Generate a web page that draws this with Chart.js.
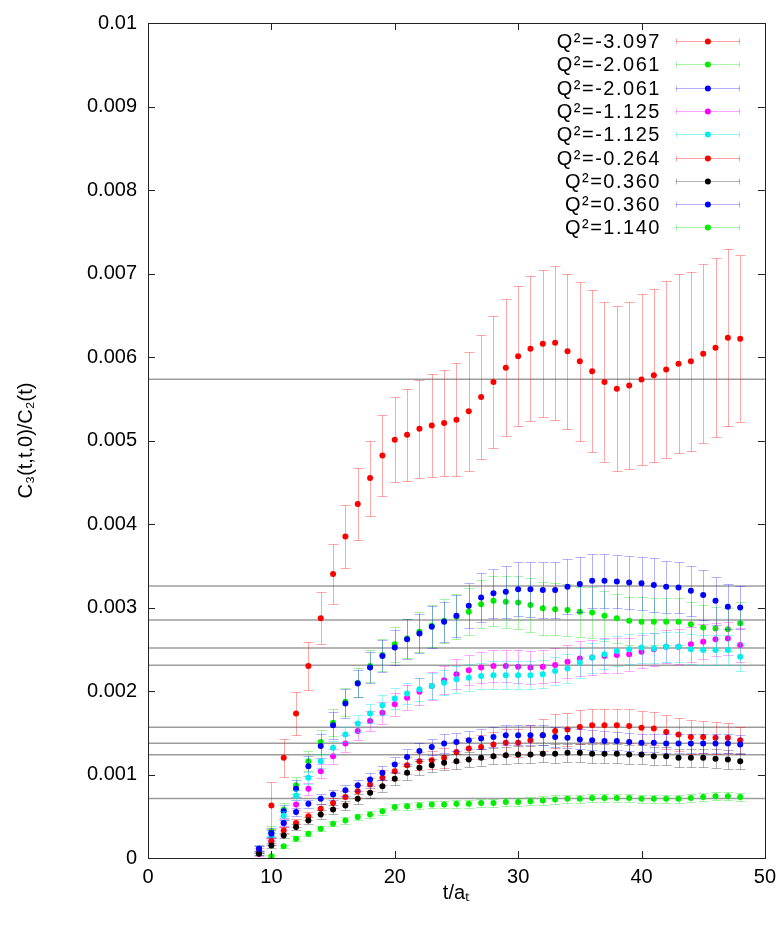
<!DOCTYPE html>
<html>
<head>
<meta charset="utf-8">
<script src="https://cdn.jsdelivr.net/npm/chart.js@4/dist/chart.umd.min.js"></script>
<style>
html,body{margin:0;padding:0;background:#fff;}
#wrap{width:783px;height:931px;position:relative;}
</style>
</head>
<body>
<div id="wrap"><canvas id="c" width="783" height="931"></canvas></div>
<script>
// ---------- data ----------
const tValues = [9,10,11,12,13,14,15,16,17,18,19,20,21,22,23,24,25,26,27,28,29,30,31,32,33,34,35,36,37,38,39,40,41,42,43,44,45,46,47,48];

const seriesLabels = ['Q²=-3.097','Q²=-2.061','Q²=-2.061','Q²=-1.125','Q²=-1.125','Q²=-0.264','Q²=0.360','Q²=0.360','Q²=1.140'];

const qm3097 = [null,0.00063,0.00120,0.00173,0.00230,0.00287,0.00340,0.00385,0.00424,0.00455,0.00482,0.00501,0.00507,0.00514,0.00518,0.00521,0.00525,0.00535,0.00552,0.00570,0.00587,0.00601,0.00610,0.00616,0.00617,0.00607,0.00595,0.00583,0.00570,0.00562,0.00566,0.00573,0.00578,0.00585,0.00592,0.00595,0.00604,0.00611,0.00623,0.00622];
const qm3097Err = [null,0.00028,0.00023,0.00026,0.00029,0.00031,0.00036,0.00038,0.00043,0.00045,0.00049,0.00051,0.00055,0.00059,0.00062,0.00064,0.00068,0.00071,0.00074,0.00079,0.00082,0.00084,0.00087,0.00088,0.00092,0.00093,0.00095,0.00097,0.00096,0.00099,0.00100,0.00102,0.00104,0.00106,0.00107,0.00107,0.00107,0.00107,0.00106,0.00100];

const qm2061g = [0.00010,0.00032,0.00058,0.00087,0.00116,0.00139,0.00162,0.00187,0.00210,0.00230,0.00243,0.00256,0.00263,0.00271,0.00278,0.00284,0.00289,0.00295,0.00304,0.00308,0.00307,0.00306,0.00303,0.00299,0.00298,0.00297,0.00295,0.00294,0.00290,0.00287,0.00284,0.00283,0.00283,0.00283,0.00283,0.00280,0.00276,0.00275,0.00274,0.00281];
const qm2061gErr = [0.00004,0.00006,0.00008,0.00010,0.00012,0.00014,0.00016,0.00017,0.00017,0.00019,0.00019,0.00021,0.00023,0.00024,0.00025,0.00026,0.00027,0.00028,0.00029,0.00030,0.00031,0.00032,0.00032,0.00032,0.00031,0.00031,0.00030,0.00030,0.00030,0.00029,0.00029,0.00029,0.00028,0.00028,0.00028,0.00027,0.00027,0.00026,0.00026,0.00026];

const qm2061b = [0.00011,0.00030,0.00056,0.00083,0.00110,0.00134,0.00159,0.00185,0.00209,0.00228,0.00242,0.00252,0.00262,0.00269,0.00277,0.00283,0.00290,0.00302,0.00312,0.00317,0.00319,0.00322,0.00322,0.00321,0.00321,0.00325,0.00328,0.00332,0.00332,0.00331,0.00330,0.00329,0.00327,0.00325,0.00324,0.00320,0.00315,0.00308,0.00301,0.00300];
const qm2061bErr = [0.00005,0.00006,0.00008,0.00010,0.00012,0.00014,0.00016,0.00017,0.00016,0.00019,0.00019,0.00021,0.00024,0.00023,0.00025,0.00024,0.00025,0.00027,0.00029,0.00029,0.00031,0.00032,0.00033,0.00033,0.00033,0.00033,0.00033,0.00032,0.00032,0.00032,0.00032,0.00032,0.00032,0.00031,0.00031,0.00030,0.00030,0.00029,0.00027,0.00026];

const qm1125m = [0.00005,0.00020,0.00042,0.00064,0.00083,0.00104,0.00122,0.00137,0.00152,0.00164,0.00174,0.00184,0.00192,0.00199,0.00206,0.00213,0.00220,0.00225,0.00228,0.00230,0.00230,0.00229,0.00228,0.00229,0.00231,0.00235,0.00239,0.00240,0.00242,0.00243,0.00244,0.00247,0.00250,0.00253,0.00253,0.00256,0.00259,0.00262,0.00263,0.00255];
const qm1125mErr = [0.00003,0.00004,0.00005,0.00006,0.00007,0.00008,0.00009,0.00010,0.00011,0.00012,0.00013,0.00014,0.00015,0.00016,0.00017,0.00017,0.00018,0.00018,0.00019,0.00019,0.00019,0.00020,0.00020,0.00020,0.00020,0.00020,0.00021,0.00021,0.00021,0.00021,0.00020,0.00020,0.00020,0.00020,0.00021,0.00021,0.00021,0.00020,0.00020,0.00020];

const qm1125c = [0.00007,0.00026,0.00051,0.00075,0.00096,0.00116,0.00132,0.00148,0.00161,0.00173,0.00183,0.00191,0.00197,0.00202,0.00206,0.00210,0.00214,0.00216,0.00218,0.00219,0.00219,0.00219,0.00219,0.00220,0.00224,0.00227,0.00234,0.00240,0.00244,0.00248,0.00250,0.00252,0.00251,0.00253,0.00253,0.00250,0.00249,0.00249,0.00249,0.00241];
const qm1125cErr = [0.00003,0.00004,0.00005,0.00006,0.00007,0.00008,0.00008,0.00009,0.00010,0.00011,0.00012,0.00012,0.00013,0.00014,0.00015,0.00015,0.00016,0.00016,0.00016,0.00017,0.00017,0.00017,0.00017,0.00017,0.00017,0.00017,0.00018,0.00018,0.00018,0.00018,0.00018,0.00018,0.00018,0.00018,0.00018,0.00018,0.00018,0.00018,0.00018,0.00017];

const qm0264 = [0.00009,0.00020,0.00033,0.00042,0.00050,0.00059,0.00066,0.00073,0.00080,0.00088,0.00096,0.00104,0.00111,0.00116,0.00117,0.00120,0.00127,0.00131,0.00133,0.00136,0.00138,0.00138,0.00141,0.00147,0.00152,0.00154,0.00157,0.00159,0.00159,0.00159,0.00158,0.00156,0.00155,0.00151,0.00148,0.00145,0.00145,0.00144,0.00144,0.00141];
const qm0264Err = [0.00003,0.00004,0.00004,0.00005,0.00005,0.00006,0.00006,0.00007,0.00008,0.00008,0.00009,0.00010,0.00010,0.00011,0.00011,0.00012,0.00012,0.00013,0.00014,0.00015,0.00016,0.00017,0.00018,0.00019,0.00020,0.00020,0.00020,0.00020,0.00020,0.00020,0.00020,0.00020,0.00020,0.00020,0.00020,0.00020,0.00019,0.00019,0.00018,0.00016];

const q0360k = [0.00005,0.00015,0.00027,0.00037,0.00045,0.00052,0.00058,0.00063,0.00071,0.00078,0.00086,0.00095,0.00102,0.00108,0.00111,0.00114,0.00116,0.00118,0.00120,0.00122,0.00123,0.00124,0.00124,0.00125,0.00125,0.00126,0.00126,0.00125,0.00125,0.00125,0.00124,0.00124,0.00122,0.00122,0.00120,0.00120,0.00120,0.00119,0.00118,0.00116];
const q0360kErr = [0.00002,0.00003,0.00003,0.00004,0.00004,0.00005,0.00005,0.00005,0.00006,0.00006,0.00007,0.00007,0.00008,0.00008,0.00008,0.00009,0.00009,0.00009,0.00010,0.00010,0.00010,0.00010,0.00010,0.00010,0.00011,0.00011,0.00011,0.00011,0.00011,0.00011,0.00011,0.00011,0.00011,0.00011,0.00011,0.00011,0.00011,0.00011,0.00011,0.00010];

const q0360b = [0.00011,0.00029,0.00042,0.00055,0.00065,0.00071,0.00076,0.00081,0.00087,0.00094,0.00102,0.00112,0.00121,0.00128,0.00133,0.00137,0.00139,0.00141,0.00143,0.00145,0.00147,0.00147,0.00147,0.00147,0.00145,0.00144,0.00142,0.00141,0.00140,0.00140,0.00139,0.00138,0.00138,0.00137,0.00137,0.00137,0.00137,0.00137,0.00137,0.00136];
const q0360bErr = [0.00003,0.00004,0.00004,0.00005,0.00005,0.00006,0.00006,0.00007,0.00007,0.00008,0.00008,0.00009,0.00009,0.00010,0.00010,0.00011,0.00011,0.00011,0.00012,0.00012,0.00012,0.00012,0.00012,0.00012,0.00012,0.00012,0.00012,0.00012,0.00012,0.00011,0.00011,0.00011,0.00011,0.00011,0.00011,0.00011,0.00011,0.00011,0.00011,0.00011];

const q1140g = [null,0.00002,0.00014,0.00023,0.00029,0.00035,0.00041,0.00045,0.00049,0.00052,0.00056,0.00061,0.00062,0.00063,0.00064,0.00064,0.00065,0.00065,0.00066,0.00066,0.00067,0.00067,0.00068,0.00069,0.00070,0.00071,0.00071,0.00072,0.00072,0.00072,0.00072,0.00071,0.00071,0.00071,0.00071,0.00072,0.00073,0.00074,0.00074,0.00073];
const q1140gErr = [null,0.00002,0.00002,0.00003,0.00003,0.00003,0.00003,0.00004,0.00004,0.00004,0.00004,0.00004,0.00004,0.00004,0.00004,0.00004,0.00005,0.00005,0.00005,0.00005,0.00005,0.00005,0.00005,0.00005,0.00005,0.00005,0.00005,0.00005,0.00005,0.00005,0.00005,0.00005,0.00005,0.00005,0.00005,0.00005,0.00005,0.00005,0.00005,0.00005];

// constant fit levels (grey horizontal lines)
const fitLevels = [0.005735,0.003258,0.002849,0.002516,0.002307,0.001565,0.001375,0.001237,0.000713];

const xTickLabels = ['0','10','20','30','40','50'];
const yTickLabels = ['0','0.001','0.002','0.003','0.004','0.005','0.006','0.007','0.008','0.009','0.01'];

// ---------- styles ----------
const seriesValues = [qm3097,qm2061g,qm2061b,qm1125m,qm1125c,qm0264,q0360k,q0360b,q1140g];
const seriesErrors = [qm3097Err,qm2061gErr,qm2061bErr,qm1125mErr,qm1125cErr,qm0264Err,q0360kErr,q0360bErr,q1140gErr];
const pointColors = ['#ff0000','#00ee00','#0000ff','#ff00ff','#00eeee','#ff0000','#000000','#0000ff','#00ee00'];
const barColors = ['rgba(255,0,0,0.35)','rgba(0,220,0,0.35)','rgba(0,0,255,0.3)','rgba(255,0,255,0.35)','rgba(0,230,230,0.4)','rgba(255,0,0,0.35)','rgba(0,0,0,0.3)','rgba(0,0,255,0.3)','rgba(0,220,0,0.35)'];
const FONT = "'Liberation Sans', Arial, Helvetica, sans-serif";

const datasets = [];
seriesValues.forEach((vals, s) => {
  const pts = [], errs = [];
  tValues.forEach((t, i) => {
    if (vals[i] === null) return;
    pts.push({x: t, y: vals[i]});
    errs.push(seriesErrors[s][i]);
  });
  datasets.push({
    label: seriesLabels[s],
    data: pts,
    errorValues: errs,
    errorColor: barColors[s],
    legendRow: s,
    showLine: false,
    pointRadius: 3,
    pointHoverRadius: 3,
    pointBorderWidth: 0,
    pointBackgroundColor: pointColors[s],
    borderColor: pointColors[s],
    backgroundColor: pointColors[s],
    order: 100 - s
  });
});
fitLevels.forEach((v) => {
  datasets.push({
    label: 'fit',
    data: [{x: 0, y: v}, {x: 50, y: v}],
    showLine: true,
    pointRadius: 0,
    borderColor: 'rgba(90,90,90,0.6)',
    borderWidth: 1.5,
    order: 200
  });
});

const errorBarPlugin = {
  id: 'errorBars',
  beforeDatasetDraw(chart, args) {
    const ds = chart.data.datasets[args.index];
    if (!ds.errorValues) return;
    const xs = chart.scales.x, ys = chart.scales.y, ctx = chart.ctx, a = chart.chartArea;
    ctx.save();
    ctx.beginPath();
    ctx.rect(a.left, a.top, a.right - a.left, a.bottom - a.top);
    ctx.clip();
    ctx.strokeStyle = ds.errorColor;
    ctx.lineWidth = 1;
    ds.data.forEach((p, i) => {
      const e = ds.errorValues[i];
      if (e === null || e === undefined) return;
      const px = Math.round(xs.getPixelForValue(p.x)) + 0.5;
      const y1 = Math.round(ys.getPixelForValue(p.y - e)) + 0.5;
      const y2 = Math.round(ys.getPixelForValue(p.y + e)) + 0.5;
      ctx.beginPath();
      ctx.moveTo(px, y1); ctx.lineTo(px, y2);
      ctx.moveTo(px - 5, y1); ctx.lineTo(px + 5, y1);
      ctx.moveTo(px - 5, y2); ctx.lineTo(px + 5, y2);
      ctx.stroke();
    });
    ctx.restore();
  }
};

const framePlugin = {
  id: 'frame',
  afterDatasetsDraw(chart) {
    const ctx = chart.ctx, a = chart.chartArea, xs = chart.scales.x, ys = chart.scales.y;
    ctx.save();
    ctx.strokeStyle = '#222';
    ctx.lineWidth = 1;
    ctx.strokeRect(Math.round(a.left) + 0.5, Math.round(a.top) + 0.5, Math.round(a.right - a.left), Math.round(a.bottom - a.top));
    ctx.beginPath();
    xs.ticks.forEach(tk => {
      const px = Math.round(xs.getPixelForValue(tk.value)) + 0.5;
      ctx.moveTo(px, a.bottom); ctx.lineTo(px, a.bottom - 7);
      ctx.moveTo(px, a.top); ctx.lineTo(px, a.top + 7);
    });
    ys.ticks.forEach(tk => {
      const py = Math.round(ys.getPixelForValue(tk.value)) + 0.5;
      ctx.moveTo(a.left, py); ctx.lineTo(a.left + 7, py);
      ctx.moveTo(a.right, py); ctx.lineTo(a.right - 7, py);
    });
    ctx.stroke();

    // key (legend) in the upper right corner
    const textRight = a.right - 104;
    const sampleL = a.right - 89, sampleR = a.right - 25;
    const rowTop = a.top + 18, rowStep = 23.3;
    chart.data.datasets.forEach(ds => {
      if (ds.legendRow === undefined) return;
      const y = Math.round(rowTop + ds.legendRow * rowStep) + 0.5;
      ctx.font = '20px ' + FONT;
      ctx.letterSpacing = '1.5px';
      ctx.fillStyle = '#000';
      ctx.textAlign = 'right';
      ctx.textBaseline = 'middle';
      ctx.fillText(ds.label, textRight, y + 1);
      ctx.letterSpacing = '0px';
      ctx.strokeStyle = ds.errorColor;
      ctx.beginPath();
      ctx.moveTo(sampleL, y); ctx.lineTo(sampleR, y);
      ctx.moveTo(sampleL + 0.5, y - 3); ctx.lineTo(sampleL + 0.5, y + 3);
      ctx.moveTo(sampleR - 0.5, y - 3); ctx.lineTo(sampleR - 0.5, y + 3);
      ctx.stroke();
      ctx.fillStyle = ds.pointBackgroundColor;
      ctx.beginPath();
      ctx.arc((sampleL + sampleR) / 2, y, 3, 0, Math.PI * 2);
      ctx.fill();
    });
    ctx.restore();
  }
};

new Chart(document.getElementById('c'), {
  type: 'scatter',
  data: { datasets },
  options: {
    responsive: false,
    animation: false,
    devicePixelRatio: 1,
    layout: { padding: { top: 17, right: 16, left: 0, bottom: 0 } },
    plugins: { legend: { display: false }, tooltip: { enabled: false } },
    scales: {
      x: {
        type: 'linear', min: 0, max: 50,
        afterFit(scale) { scale.height = 73; },
        ticks: {
          stepSize: 10, padding: 7, color: '#000', maxRotation: 0,
          font: { family: FONT, size: 20 },
          callback: (v, i) => xTickLabels[i]
        },
        grid: { display: false, drawTicks: false },
        border: { display: false },
        title: { display: true, text: 't/aₜ', color: '#000', font: { family: FONT, size: 20 }, padding: { top: 0, bottom: 26 } }
      },
      y: {
        type: 'linear', min: 0, max: 0.01,
        afterFit(scale) { scale.width = 148; },
        ticks: {
          stepSize: 0.001, padding: 11, color: '#000',
          font: { family: FONT, size: 20 },
          callback: (v, i) => yTickLabels[i]
        },
        grid: { display: false, drawTicks: false },
        border: { display: false },
        title: { display: true, text: 'C₃(t,t,0)/C₂(t)', color: '#000', font: { family: FONT, size: 20 }, padding: { top: 14, bottom: 0 } }
      }
    }
  },
  plugins: [errorBarPlugin, framePlugin]
});
</script>
</body>
</html>
